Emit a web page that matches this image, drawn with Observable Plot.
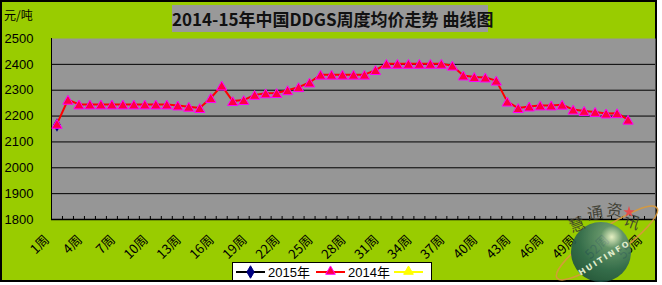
<!DOCTYPE html>
<html><head><meta charset="utf-8">
<script src="https://cdn.jsdelivr.net/npm/d3@7"></script>
<script src="https://cdn.jsdelivr.net/npm/@observablehq/plot@0.6"></script>
<style>
body{margin:0;background:#fff;}
#wrap{position:relative;width:662px;height:285px;overflow:hidden;font-family:"Liberation Sans",Arial,sans-serif;}
#bg{position:absolute;left:0;top:0;width:657px;height:282px;box-sizing:border-box;border:2px solid #000;background:#99CC00;}
#chart{position:absolute;left:0;top:0;}
#title{position:absolute;left:172px;top:5px;width:316px;height:27px;background:#999999;color:#111;font-family:"Noto Sans CJK SC",sans-serif;font-weight:bold;font-size:17px;line-height:27px;text-align:center;white-space:nowrap;}
#unit{position:absolute;left:4px;top:6px;font-family:"Noto Sans CJK SC",sans-serif;font-size:12px;color:#000;}
#legend{position:absolute;left:232px;top:262px;width:200px;height:19px;box-sizing:border-box;border:1px solid #000;background:#fff;}
#mark{position:absolute;left:0;top:0;pointer-events:none;}
</style></head>
<body>
<div id="wrap">
  <div id="bg"></div>
  <div id="chart"></div>
  <div id="title"></div>
  <div id="unit"></div>
  <div id="legend"></div>
  <svg id="mark" width="662" height="285"></svg>
</div>
<script>
// ---- data ----
const titleText = "2014-15年中国DDGS周度均价走势 曲线图";
const unitText = "元/吨";
const weekLabels = ["1周","2周","3周","4周","5周","6周","7周","8周","9周","10周","11周","12周","13周","14周","15周","16周","17周","18周","19周","20周","21周","22周","23周","24周","25周","26周","27周","28周","29周","30周","31周","32周","33周","34周","35周","36周","37周","38周","39周","40周","41周","42周","43周","44周","45周","46周","47周","48周","49周","50周","51周","52周","53周","54周","55周"];
const shownLabels = [1,4,7,10,13,16,19,22,25,28,31,34,37,40,43,46,49,52,55];
const yTicks = [1800,1900,2000,2100,2200,2300,2400,2500];
const seriesNames = ["2015年","2014年",""];
const values2015 = [2169];
const values2014 = [2170,2263,2245,2245,2245,2245,2245,2245,2245,2245,2245,2241,2236,2231,2270,2318,2258,2262,2282,2288,2289,2300,2312,2330,2360,2360,2360,2360,2360,2378,2402,2402,2402,2402,2402,2402,2395,2357,2351,2349,2337,2256,2231,2237,2241,2241,2244,2225,2220,2216,2210,2211,2186];

// ---- build ----
const n = weekLabels.length;
const d2014 = values2014.map((v,i)=>({week:i+1, value:v}));
const d2015 = values2015.map((v,i)=>({week:i+1, value:v}));
const boundaries = weekLabels.slice(1).map((_,i)=>i+1.5);

document.getElementById("title").textContent = titleText;
document.getElementById("unit").textContent = unitText;

const chart = Plot.plot({
  width:662, height:285,
  marginLeft:51, marginRight:7, marginTop:38, marginBottom:66,
  style:{background:"transparent", overflow:"visible"},
  x:{domain:[0.5, n+0.5]},
  y:{domain:[1800,2500]},
  marks:[
    Plot.frame({fill:"#969696", stroke:null}),
    Plot.gridY(yTicks.slice(1,-1), {stroke:"#000", strokeOpacity:1}),
    Plot.axisY({ticks:yTicks, tickFormat:d=>String(d), tickSize:0, tickPadding:0, textAnchor:"start", dx:-47, fontSize:13, fill:"#000", label:null, fontFamily:"Liberation Sans, Arial, sans-serif"}),
    Plot.axisX({ticks:boundaries, tickSize:3, dy:-3, text:null, label:null, stroke:"#000"}),
    Plot.axisX({ticks:shownLabels, tickSize:0, tickRotate:-45, tickPadding:18, dx:-10, tickFormat:d=>weekLabels[d-1], fontSize:13, fill:"#000", label:null, fontFamily:"Noto Sans CJK SC, sans-serif"}),
    Plot.ruleX([0.5], {stroke:"#000"}),
    Plot.ruleY([1800], {stroke:"#000", strokeWidth:1.5}),
    Plot.line(d2015, {x:"week", y:"value", stroke:"#000", strokeWidth:2}),
    Plot.dot(d2015, {x:"week", y:"value", symbol:"diamond", r:3.2, fill:"#000080", stroke:"#000080", dy:1}),
    Plot.line(d2014, {x:"week", y:"value", stroke:"#FF0000", strokeWidth:2}),
    Plot.dot(d2014, {x:"week", y:"value", symbol:"triangle", r:3.8, fill:"#FF0040", stroke:"#FF00FF", strokeWidth:1, dy:1.5})
  ]
});
document.getElementById("chart").appendChild(chart);

// ---- legend ----
const lg = d3.select("#legend").append("svg").attr("width",198).attr("height",17);
const items = [
  {x:3, color:"#000", mk:"diamond", mfill:"#000080", mstroke:"#000080"},
  {x:83, color:"#FF0000", mk:"triangle", mfill:"#FF0040", mstroke:"#FF00FF"},
  {x:161, color:"#FFFF00", mk:"triangle", mfill:"#FFFF00", mstroke:"#FFFF00"}
];
items.forEach((it,i)=>{
  lg.append("line").attr("x1",it.x).attr("x2",it.x+29).attr("y1",9).attr("y2",9).attr("stroke",it.color).attr("stroke-width",2);
  const sym = it.mk==="diamond" ? d3.symbolDiamond : d3.symbolTriangle;
  lg.append("path").attr("d", d3.symbol(sym, it.mk==="diamond"?45:40)()).attr("transform",`translate(${it.x+14.5},${it.mk==="diamond"?9:8.5})`).attr("fill",it.mfill).attr("stroke",it.mstroke);
  lg.append("text").attr("x",it.x+32).attr("y",13.5).attr("font-size",13).attr("font-family","Liberation Sans, Noto Sans CJK SC, sans-serif").attr("fill","#000").text(seriesNames[i]);
});

// ---- watermark logo ----
const m = d3.select("#mark");
const defs = m.append("defs");
const g1 = defs.append("radialGradient").attr("id","sph").attr("cx","0.68").attr("cy","0.25").attr("r","0.85");
g1.append("stop").attr("offset","0").attr("stop-color","#eef4d8");
g1.append("stop").attr("offset","0.22").attr("stop-color","#5f8f74");
g1.append("stop").attr("offset","0.65").attr("stop-color","#2a6352");
g1.append("stop").attr("offset","1").attr("stop-color","#1b4c40");
const wm = m.append("g").attr("opacity",0.9);
wm.append("ellipse").attr("cx",607).attr("cy",243).attr("rx",61).attr("ry",14).attr("transform","rotate(-35 607 243)").attr("fill","none").attr("stroke","#d99a3c").attr("stroke-width",1.6);
wm.append("circle").attr("cx",601).attr("cy",252).attr("r",30).attr("fill","url(#sph)");
const chars = [["慧",579,230,-20],["通",596,219,-8],["资",614,216,5],["讯",630,227,20]];
chars.forEach(c=>wm.append("text").attr("x",c[1]).attr("y",c[2]).attr("text-anchor","middle").attr("font-size",16).attr("font-family","Noto Sans CJK SC, sans-serif").attr("fill","#3c3c30").attr("transform",`rotate(${c[3]} ${c[1]} ${c[2]})`).text(c[0]));
wm.append("text").attr("x",606).attr("y",260).attr("text-anchor","middle").attr("font-size",8).attr("font-weight","bold").attr("letter-spacing","2").attr("font-family","DejaVu Sans, sans-serif").attr("fill","#e8f0e0").attr("transform","rotate(-32 606 260)").text("HUITINFO");
wm.append("path").attr("d", d3.symbol(d3.symbolStar, 40)()).attr("transform","translate(629,212)").attr("fill","#ee4444");
</script>
</body></html>
